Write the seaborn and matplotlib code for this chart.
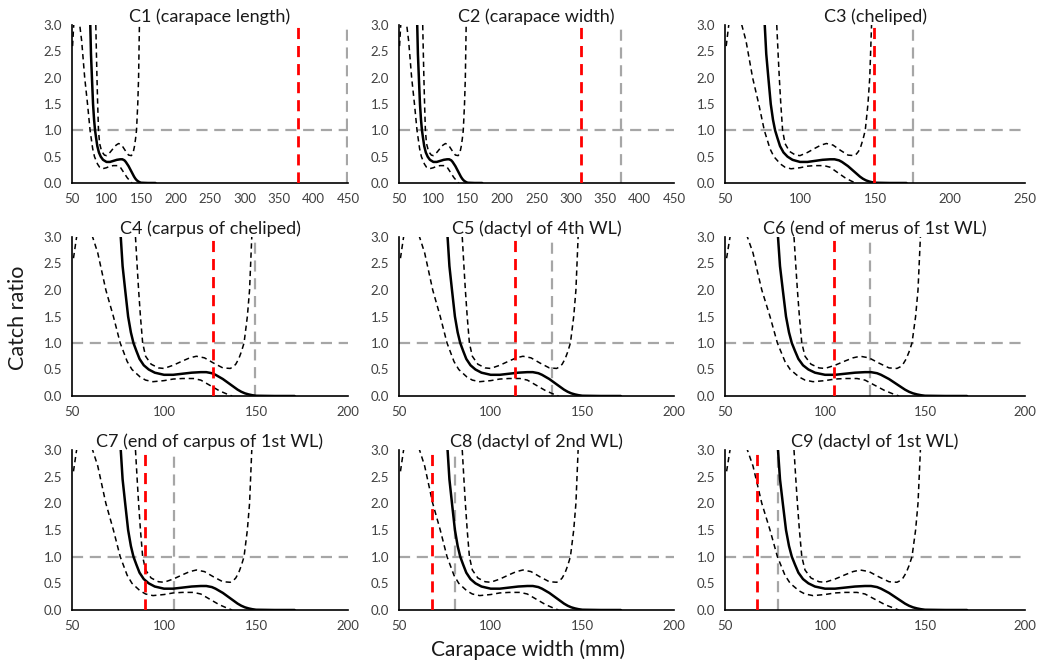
import numpy as np
import pandas as pd
import matplotlib
matplotlib.use("Agg")
import matplotlib.pyplot as plt
import seaborn as sns

# ---- data ----
titles = ["C1 (carapace length)", "C2 (carapace width)", "C3 (cheliped)",
          "C4 (carpus of cheliped)", "C5 (dactyl of 4th WL)", "C6 (end of merus of 1st WL)",
          "C7 (end of carpus of 1st WL)", "C8 (dactyl of 2nd WL)", "C9 (dactyl of 1st WL)"]
red_lines = [378, 315, 149, 126.5, 113, 104.3, 89.7, 68.2, 66.2]
grey_lines = [448, 373, 175.5, 149.5, 133.7, 122.6, 105.2, 80.6, 76.4]
x_max = [450, 450, 250, 200, 200, 200, 200, 200, 200]

cw_fit = [76.5, 77.5, 78.9, 80.5, 82, 83.4, 85, 86.7, 89, 91.7, 95, 100, 105, 110,
          115, 120, 123, 126, 128, 130, 132, 134, 136, 138, 140, 142, 144, 146, 148, 150, 160, 171]
cr_fit = [3.0, 2.45, 2.0, 1.5, 1.2, 1.0, 0.85, 0.7, 0.58, 0.5, 0.44, 0.40, 0.40, 0.42,
          0.44, 0.45, 0.45, 0.43, 0.40, 0.36, 0.32, 0.27, 0.22, 0.17, 0.12, 0.08, 0.05, 0.03, 0.015, 0.005, 0.0, 0.0]

cw_up = [84.5, 85.5, 86.2, 87.2, 88.4, 90, 93, 97, 100, 105, 110, 114, 117.6, 122,
         127, 132, 136, 137.6, 139, 140.6, 142, 143.5, 145.3, 146.5, 147.7]
cr_up = [3.0, 2.4, 2.0, 1.5, 1.0, 0.75, 0.6, 0.53, 0.52, 0.58, 0.66, 0.72, 0.75, 0.72,
         0.62, 0.53, 0.52, 0.55, 0.6, 0.7, 0.83, 1.0, 1.5, 2.0, 3.0]

cw_lo = [50.8, 52.5, 56, 61.2, 64, 68.4, 72.5, 76.2, 80, 82.6, 87, 90, 94, 100, 105,
         110, 116, 120, 125, 130, 134, 137]
cr_lo = [2.6, 3.0, 3.3, 3.0, 2.7, 2.0, 1.5, 1.0, 0.65, 0.5, 0.36, 0.3, 0.27, 0.29, 0.32,
         0.33, 0.33, 0.3, 0.2, 0.1, 0.04, 0.0]

y_ticks = [0.0, 0.5, 1.0, 1.5, 2.0, 2.5, 3.0]

# ---- figure ----
sns.set_theme(style="white")
plt.rcParams['font.family'] = ['Lato', 'DejaVu Sans']

W, H = 1037, 663
fig = plt.figure(figsize=(W / 100, H / 100), dpi=100)

col_px = [(72, 348), (399, 674), (725, 1025)]
row_px = [(25, 183), (237, 396), (450, 610)]

fit_df = pd.DataFrame({"cw": cw_fit, "cr": cr_fit})
up_df = pd.DataFrame({"cw": cw_up, "cr": cr_up})
lo_df = pd.DataFrame({"cw": cw_lo, "cr": cr_lo})

grey = "#A6A6A6"
for i in range(9):
    r, c = divmod(i, 3)
    l, rr = col_px[c]
    t, b = row_px[r]
    ax = fig.add_axes([l / W, 1 - b / H, (rr - l) / W, (b - t) / H])

    ax.axhline(1.0, color=grey, lw=1.6, ls=(0, (5, 3)), zorder=1)
    ax.axvline(grey_lines[i], color=grey, lw=1.6, ls=(0, (5, 3)), zorder=1)
    ax.axvline(red_lines[i], color="#FF0000", lw=2.0, ls=(0, (4, 2.5)), zorder=4)

    sns.lineplot(data=fit_df, x="cw", y="cr", ax=ax, color="black", lw=1.8, zorder=3)
    sns.lineplot(data=up_df, x="cw", y="cr", ax=ax, color="black", lw=1.1,
                 ls=(0, (3.5, 2.5)), zorder=3)
    sns.lineplot(data=lo_df, x="cw", y="cr", ax=ax, color="black", lw=1.1,
                 ls=(0, (3.5, 2.5)), zorder=3)

    ax.set_xlim(50, x_max[i])
    ax.set_ylim(0, 3.0)
    ax.set_xticks(np.arange(50, x_max[i] + 1, 50))
    ax.set_yticks(y_ticks)
    ax.set_yticklabels([f"{v:.1f}" for v in y_ticks])
    ax.set_xlabel("")
    ax.set_ylabel("")
    ax.tick_params(axis="both", length=0, labelsize=9.5, colors="#404040")
    ax.tick_params(axis="x", pad=7)
    ax.tick_params(axis="y", pad=7)
    for s in ["top", "right"]:
        ax.spines[s].set_visible(False)
    ax.spines["left"].set_color("#000000")
    ax.spines["bottom"].set_color("#000000")
    ax.spines["left"].set_linewidth(1.2)
    ax.spines["bottom"].set_linewidth(1.2)
    ax.set_title(titles[i], fontsize=13, color="#1a1a1a", pad=2)

fig.text(18 / W, 1 - 318 / H, "Catch ratio", rotation=90, ha="center", va="center",
         fontsize=15.5, color="#1a1a1a")
fig.text(528 / W, 1 - 650 / H, "Carapace width (mm)", ha="center", va="center",
         fontsize=15, color="#1a1a1a")

fig.savefig("out.png", dpi=100)
